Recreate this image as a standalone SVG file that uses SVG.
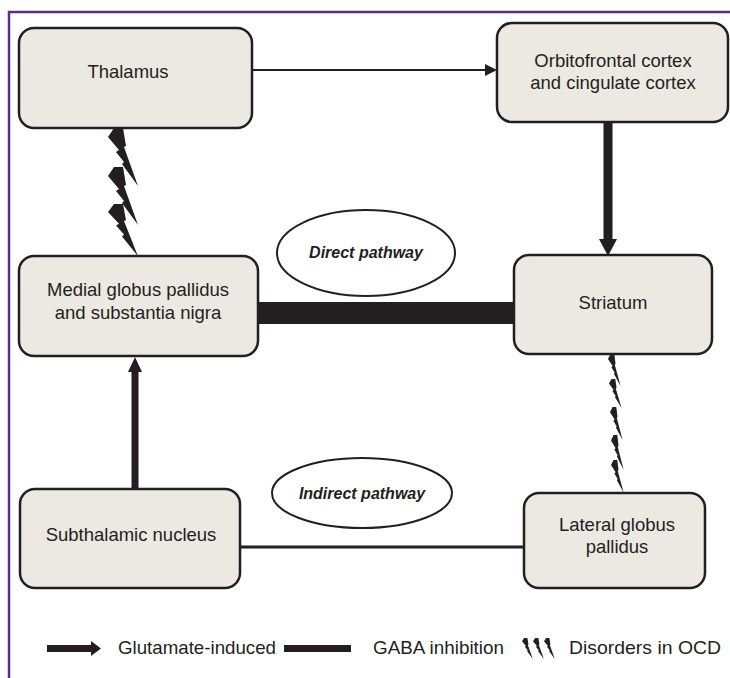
<svg xmlns="http://www.w3.org/2000/svg" width="730" height="678" viewBox="0 0 730 678">
<style>
.box{fill:#ece9e3;stroke:#231f20;stroke-width:2.5}
.lbl{font-family:"Liberation Sans",Arial,sans-serif;font-size:18.5px;fill:#231f20;text-anchor:middle}
.path{font-family:"Liberation Sans",Arial,sans-serif;font-size:16px;font-weight:bold;font-style:italic;fill:#231f20;text-anchor:middle}
.leg{font-family:"Liberation Sans",Arial,sans-serif;font-size:18.5px;fill:#231f20}
.ell{fill:#fff;stroke:#231f20;stroke-width:2}
.bolt{fill:#231f20}
</style>
<defs>
<path id="bolt" d="M6,0 L15,0 L18,18 L16,19 L30,58 L14,36 L16,34 L8,24 L11,22 L0,9 Z"/>
</defs>
<rect width="730" height="678" fill="#fff"/>
<path d="M9,678 L9,12 L730,12" fill="none" stroke="#5c2d91" stroke-width="2.5"/>

<g id="connectors">
  <line x1="252" y1="70" x2="487" y2="70" stroke="#231f20" stroke-width="2"/>
  <polygon points="485,64 497,70 485,76" fill="#231f20"/>
  <line x1="608" y1="122" x2="608" y2="241" stroke="#231f20" stroke-width="9"/>
  <polygon points="599,239 617,239 608,256" fill="#231f20"/>
  <rect x="258" y="302" width="256" height="22" fill="#231f20"/>
  <line x1="135" y1="489" x2="135" y2="370" stroke="#231f20" stroke-width="7"/>
  <polygon points="128,372 142,372 135,357" fill="#231f20"/>
  <line x1="240" y1="547" x2="524" y2="547" stroke="#231f20" stroke-width="3"/>
  <g class="bolt">
    <use href="#bolt" transform="translate(108,128)"/>
    <use href="#bolt" transform="translate(108,167)"/>
    <use href="#bolt" transform="translate(108,204) scale(1,0.9)"/>
    <use href="#bolt" transform="translate(608,354) scale(0.42,0.55)"/>
    <use href="#bolt" transform="translate(609,379) scale(0.42,0.5)"/>
    <use href="#bolt" transform="translate(610,407) scale(0.42,0.57)"/>
    <use href="#bolt" transform="translate(611,435) scale(0.42,0.6)"/>
    <use href="#bolt" transform="translate(611,460) scale(0.42,0.56)"/>
  </g>
</g>

<g id="direct-pathway">
  <ellipse class="ell" cx="366" cy="253" rx="89" ry="43"/>
  <text class="path" x="366" y="258">Direct pathway</text>
</g>
<g id="indirect-pathway">
  <ellipse class="ell" cx="362" cy="493" rx="90" ry="35"/>
  <text class="path" x="362" y="499">Indirect pathway</text>
</g>

<g id="thalamus">
  <rect class="box" x="19" y="28" width="233" height="100" rx="15"/>
  <text class="lbl" x="128" y="78">Thalamus</text>
</g>
<g id="orbitofrontal">
  <rect class="box" x="497" y="23" width="231" height="99" rx="15"/>
  <text class="lbl" x="613" y="67">Orbitofrontal cortex</text>
  <text class="lbl" x="613" y="89">and cingulate cortex</text>
</g>
<g id="medial-gp">
  <rect class="box" x="19" y="256" width="239" height="100" rx="15"/>
  <text class="lbl" x="138" y="296">Medial globus pallidus</text>
  <text class="lbl" x="138" y="319">and substantia nigra</text>
</g>
<g id="striatum">
  <rect class="box" x="514" y="255" width="198" height="99" rx="15"/>
  <text class="lbl" x="613" y="309">Striatum</text>
</g>
<g id="subthalamic">
  <rect class="box" x="20" y="489" width="220" height="99" rx="15"/>
  <text class="lbl" x="131" y="541">Subthalamic nucleus</text>
</g>
<g id="lateral-gp">
  <rect class="box" x="524" y="493" width="181" height="95" rx="15"/>
  <text class="lbl" x="617" y="531">Lateral globus</text>
  <text class="lbl" x="617" y="553">pallidus</text>
</g>

<g id="legend">
  <rect x="47" y="645" width="46" height="7" fill="#231f20"/>
  <polygon points="91,641 101,648.5 91,656" fill="#231f20"/>
  <text class="leg" x="118" y="654" textLength="158" lengthAdjust="spacingAndGlyphs">Glutamate-induced</text>
  <rect x="284" y="645" width="67" height="7" fill="#231f20"/>
  <text class="leg" x="373" y="654" textLength="131" lengthAdjust="spacingAndGlyphs">GABA inhibition</text>
  <g class="bolt">
    <use href="#bolt" transform="translate(522,638) scale(0.36,0.36)"/>
    <use href="#bolt" transform="translate(533,638) scale(0.36,0.36)"/>
    <use href="#bolt" transform="translate(544,638) scale(0.36,0.36)"/>
  </g>
  <text class="leg" x="569" y="654" textLength="152" lengthAdjust="spacingAndGlyphs">Disorders in OCD</text>
</g>
</svg>
